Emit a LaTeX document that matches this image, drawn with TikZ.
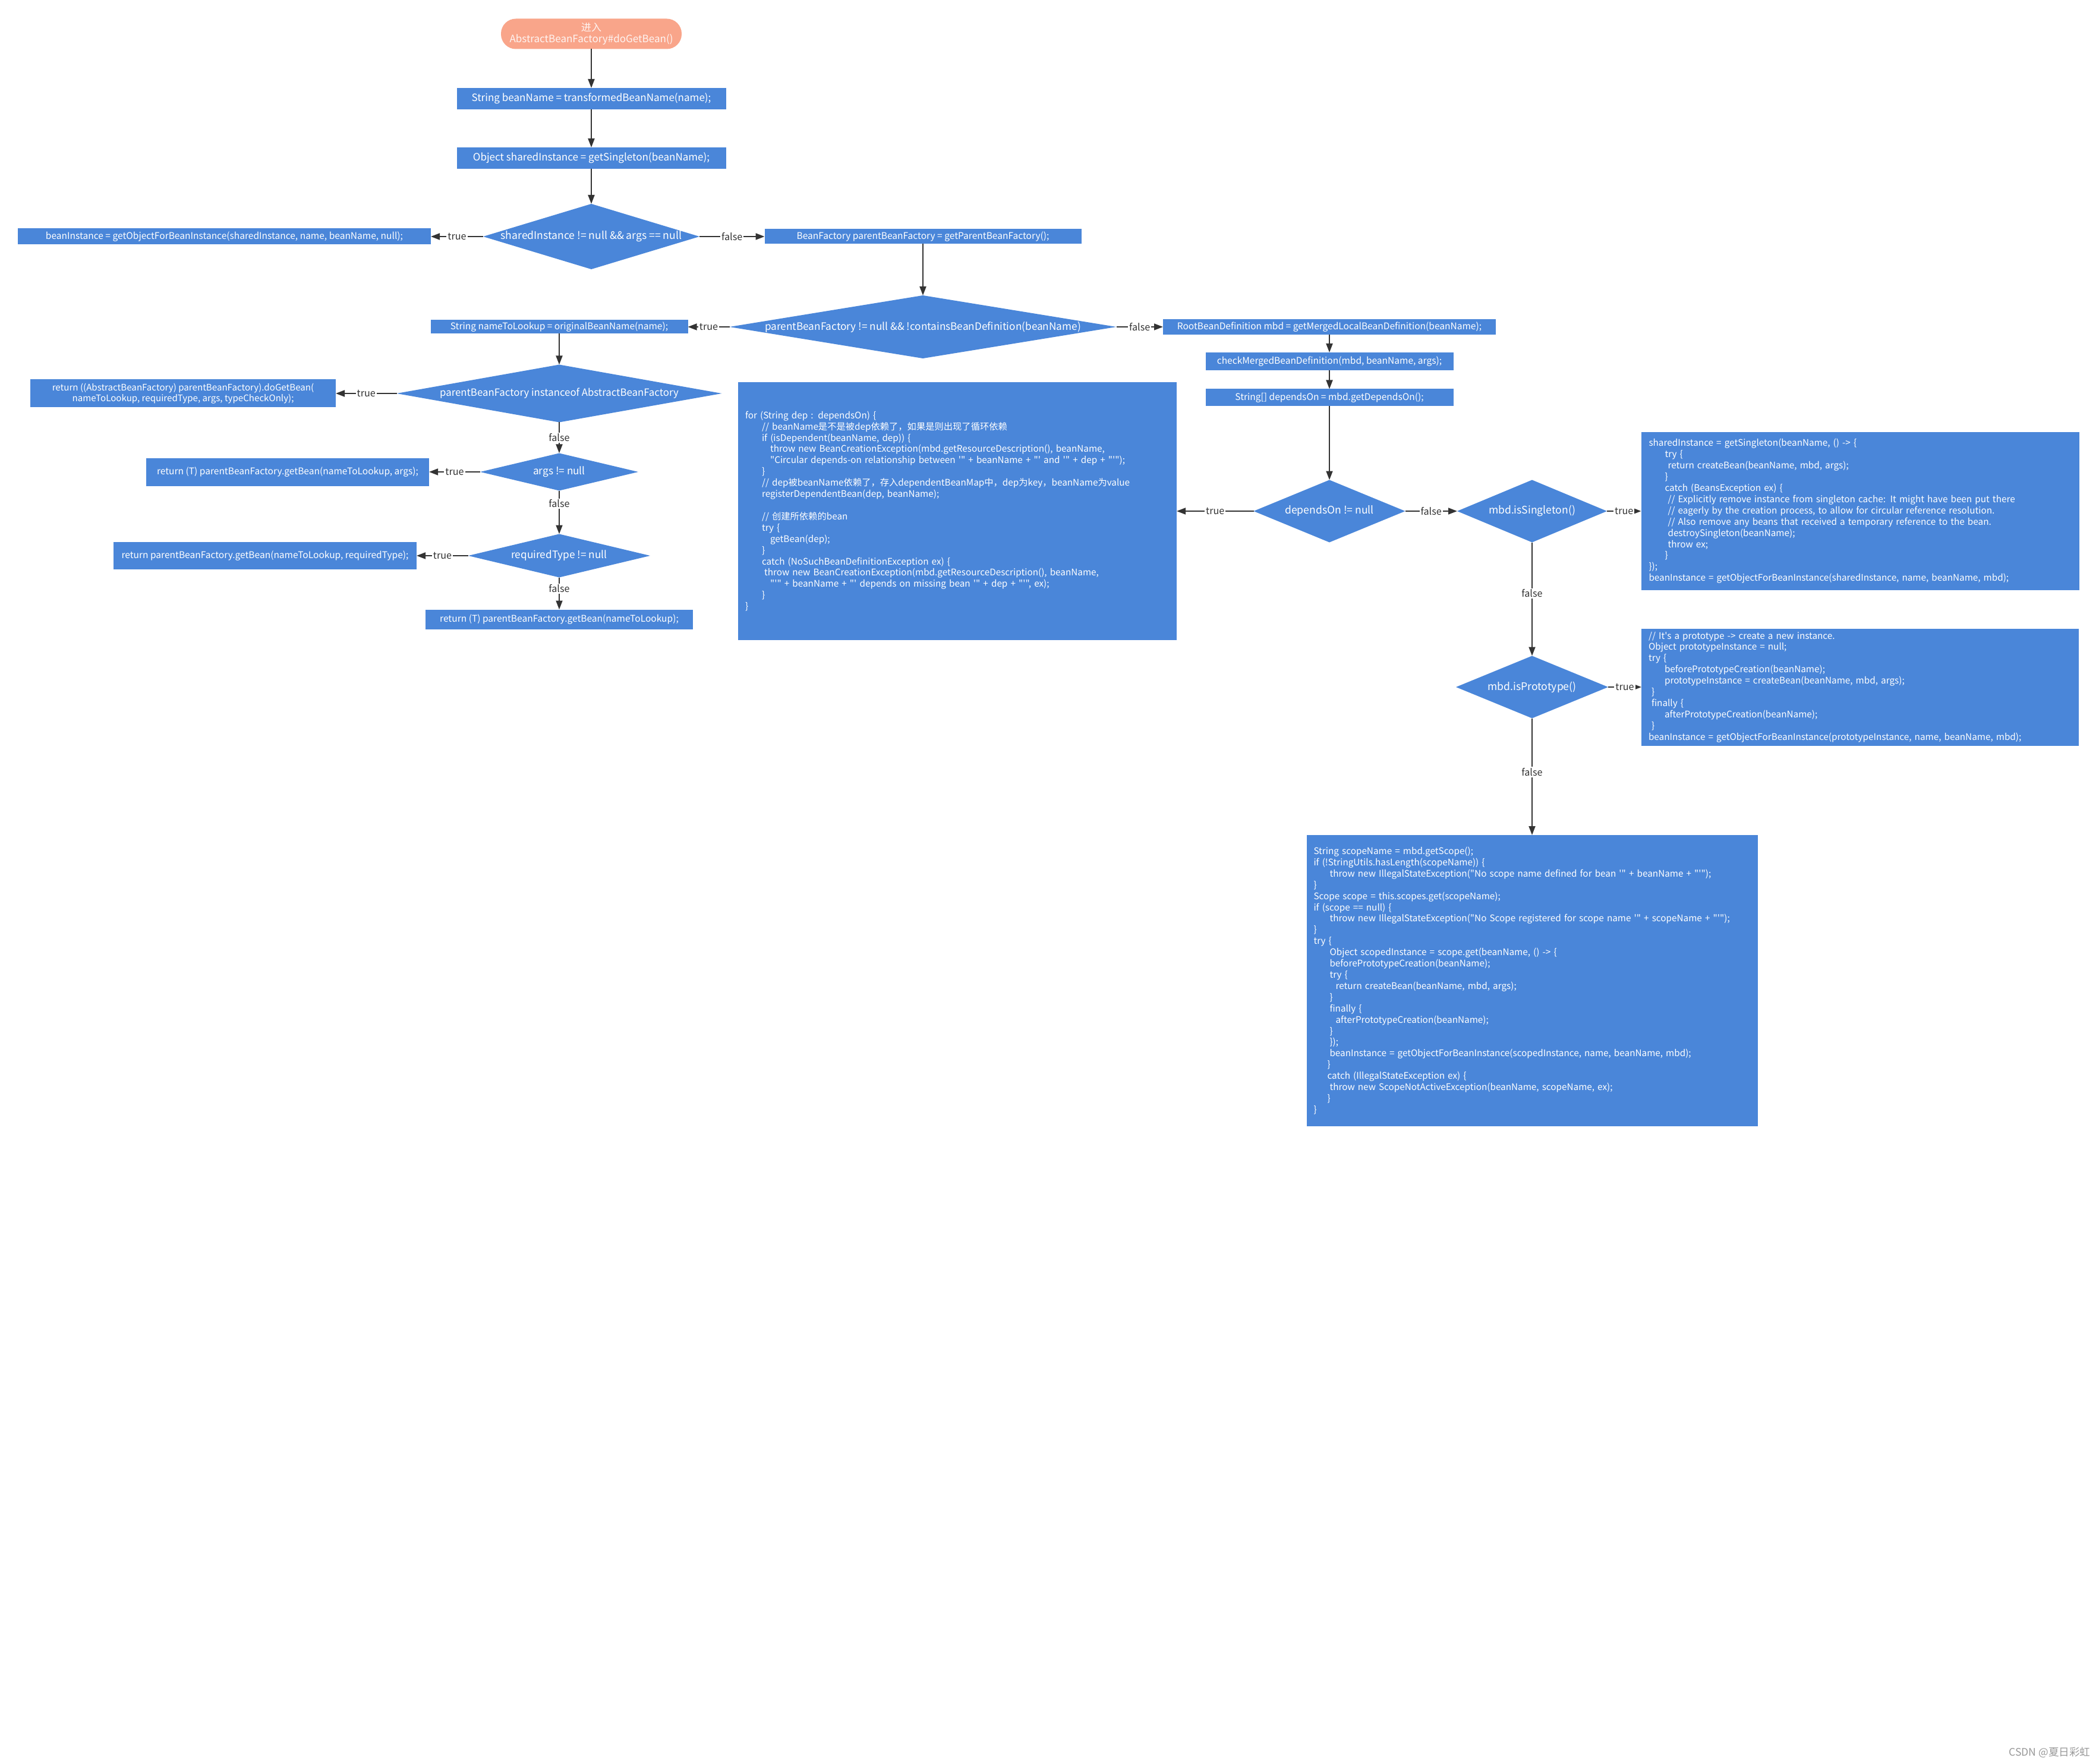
\documentclass[tikz,border=0pt]{standalone}
\usepackage{fontspec}
\setmainfont{Noto Sans CJK SC}[Ligatures=TeXOff]
\usepackage{tikz}
\usetikzlibrary{shapes.geometric, arrows.meta}

\definecolor{flowblue}{RGB}{74,134,217}
\definecolor{startpeach}{RGB}{249,165,138}
\definecolor{linegray}{RGB}{51,51,51}
\definecolor{markgray}{RGB}{153,153,153}
\newcommand{\dtext}[1]{\makebox[0pt]{#1}}

\begin{document}
\begin{tikzpicture}[
	box/.style={rectangle, fill=flowblue, text=white, inner sep=0pt, outer sep=0pt, font=\fontsize{4.42}{5.4}\selectfont},
	bigbox/.style={box, font=\fontsize{4.85}{6.3}\selectfont},
	codebox/.style={box, align=left, inner xsep=0.12cm, font=\fontsize{4.35}{5.38}\selectfont},
	decision/.style={diamond, fill=flowblue, text=white, inner sep=0pt, outer sep=0pt, font=\fontsize{4.9}{5.4}\selectfont},
	flow/.style={draw=linegray, line width=0.55pt, -{Triangle[length=1.5mm,width=1.1mm]}},
	tf/.style={fill=white, inner sep=0.6pt, text=linegray, font=\fontsize{4.6}{5.4}\selectfont}
	]
	\fill[white] (0,0) rectangle (35.32,-29.68);
	
	%start
	\node[box, fill=startpeach, text=white!88!startpeach, rounded corners=0.25cm, align=center, minimum width=3.04cm, minimum height=0.51cm, font=\fontsize{4.85}{5.4}\selectfont] (start) at (9.95,-0.57) {进入\\AbstractBeanFactory\#doGetBean()};
	
	%main column
	\node[bigbox, minimum width=4.53cm, minimum height=0.36cm] (bn) at (9.95,-1.66) {String beanName = transformedBeanName(name);};
	\node[bigbox, minimum width=4.53cm, minimum height=0.36cm] (si) at (9.95,-2.66) {Object sharedInstance = getSingleton(beanName);};
	\node[decision, minimum width=3.64cm, minimum height=1.10cm, font=\fontsize{5}{5.4}\selectfont] (d1) at (9.95,-3.98) {\dtext{sharedInstance != null \&\& args == null}};
	\node[box, minimum width=6.95cm, minimum height=0.27cm] (bi) at (3.775,-3.98) {beanInstance = getObjectForBeanInstance(sharedInstance, name, beanName, null);};
	\node[box, minimum width=5.33cm, minimum height=0.25cm] (bf) at (15.53,-3.98) {BeanFactory parentBeanFactory = getParentBeanFactory();};
	\node[decision, minimum width=6.51cm, minimum height=1.06cm] (d2) at (15.53,-5.50) {\dtext{parentBeanFactory != null \&\& !containsBeanDefinition(beanName)}};
	
	%parent factory branch
	\node[box, minimum width=4.33cm, minimum height=0.23cm] (ntl) at (9.41,-5.50) {String nameToLookup = originalBeanName(name);};
	\node[decision, minimum width=5.47cm, minimum height=0.97cm, font=\fontsize{4.78}{5.4}\selectfont] (d3) at (9.41,-6.62) {\dtext{parentBeanFactory instanceof AbstractBeanFactory}};
	\node[box, align=center, minimum width=5.14cm, minimum height=0.47cm, font=\fontsize{4.3}{5.0}\selectfont] (dgb) at (3.08,-6.62) {return ((AbstractBeanFactory) parentBeanFactory).doGetBean(\\nameToLookup, requiredType, args, typeCheckOnly);};
	\node[decision, minimum width=2.66cm, minimum height=0.63cm] (d4) at (9.41,-7.94) {\dtext{args != null}};
	\node[box, minimum width=4.76cm, minimum height=0.47cm] (ra) at (4.84,-7.94) {return (T) parentBeanFactory.getBean(nameToLookup, args);};
	\node[decision, minimum width=3.06cm, minimum height=0.73cm] (d5) at (9.41,-9.35) {\dtext{requiredType != null}};
	\node[box, minimum width=5.10cm, minimum height=0.46cm] (rrt) at (4.46,-9.35) {return parentBeanFactory.getBean(nameToLookup, requiredType);};
	\node[box, minimum width=4.50cm, minimum height=0.33cm] (rn) at (9.41,-10.42) {return (T) parentBeanFactory.getBean(nameToLookup);};
	
	%merged definition branch
	\node[box, minimum width=5.60cm, minimum height=0.26cm] (root) at (22.37,-5.50) {RootBeanDefinition mbd = getMergedLocalBeanDefinition(beanName);};
	\node[box, minimum width=4.17cm, minimum height=0.30cm] (cm) at (22.37,-6.08) {checkMergedBeanDefinition(mbd, beanName, args);};
	\node[box, minimum width=4.17cm, minimum height=0.29cm] (dep) at (22.37,-6.69) {String[] dependsOn = mbd.getDependsOn();};
	\node[decision, minimum width=2.55cm, minimum height=1.05cm, font=\fontsize{5}{5.4}\selectfont] (d6) at (22.37,-8.60) {\dtext{dependsOn != null}};
	\node[decision, minimum width=2.52cm, minimum height=1.05cm, font=\fontsize{5}{5.4}\selectfont] (d7) at (25.78,-8.60) {\dtext{mbd.isSingleton()}};
	\node[decision, minimum width=2.56cm, minimum height=1.05cm, font=\fontsize{5}{5.4}\selectfont] (d8) at (25.78,-11.56) {\dtext{mbd.isPrototype()}};
	
	%code blocks
	\node[codebox, text width=7.14cm, minimum height=4.33cm] (code) at (16.11,-8.60) {
		for (String dep : dependsOn) \{\\
		\hspace*{0.28cm}// beanName是不是被dep依赖了，如果是则出现了循环依赖\\
		\hspace*{0.28cm}if (isDependent(beanName, dep)) \{\\
		\hspace*{0.42cm}throw new BeanCreationException(mbd.getResourceDescription(), beanName,\\
		\hspace*{0.42cm}"Circular depends-on relationship between '" + beanName + "' and '" + dep + "'");\\
		\hspace*{0.28cm}\}\\
		\hspace*{0.28cm}// dep被beanName依赖了，存入dependentBeanMap中，dep为key，beanName为value\\
		\hspace*{0.28cm}registerDependentBean(dep, beanName);\\
		~\\
		\hspace*{0.28cm}// 创建所依赖的bean\\
		\hspace*{0.28cm}try \{\\
		\hspace*{0.42cm}getBean(dep);\\
		\hspace*{0.28cm}\}\\
		\hspace*{0.28cm}catch (NoSuchBeanDefinitionException ex) \{\\
		\hspace*{0.32cm}throw new BeanCreationException(mbd.getResourceDescription(), beanName,\\
		\hspace*{0.42cm}"'" + beanName + "' depends on missing bean '" + dep + "'", ex);\\
		\hspace*{0.28cm}\}\\
		\}};
	\node[codebox, text width=7.11cm, inner xsep=0.13cm, minimum height=2.66cm] (sing) at (31.30,-8.60) {
		sharedInstance = getSingleton(beanName, () -> \{\\
		\hspace*{0.27cm}try \{\\
		\hspace*{0.32cm}return createBean(beanName, mbd, args);\\
		\hspace*{0.27cm}\}\\
		\hspace*{0.27cm}catch (BeansException ex) \{\\
		\hspace*{0.32cm}// Explicitly remove instance from singleton cache: It might have been put there\\
		\hspace*{0.32cm}// eagerly by the creation process, to allow for circular reference resolution.\\
		\hspace*{0.32cm}// Also remove any beans that received a temporary reference to the bean.\\
		\hspace*{0.32cm}destroySingleton(beanName);\\
		\hspace*{0.32cm}throw ex;\\
		\hspace*{0.27cm}\}\\
		\});\\
		beanInstance = getObjectForBeanInstance(sharedInstance, name, beanName, mbd);};
	\node[codebox, text width=7.12cm, minimum height=1.97cm] (proto) at (31.30,-11.56) {
		// It's a prototype -> create a new instance.\\
		Object prototypeInstance = null;\\
		try \{\\
		\hspace*{0.27cm}beforePrototypeCreation(beanName);\\
		\hspace*{0.27cm}prototypeInstance = createBean(beanName, mbd, args);\\
		\hspace*{0.05cm}\}\\
		\hspace*{0.05cm}finally \{\\
		\hspace*{0.27cm}afterPrototypeCreation(beanName);\\
		\hspace*{0.05cm}\}\\
		beanInstance = getObjectForBeanInstance(prototypeInstance, name, beanName, mbd);};
	\node[codebox, text width=7.35cm, minimum height=4.90cm] (scope) at (25.78,-16.50) {
		String scopeName = mbd.getScope();\\
		if (!StringUtils.hasLength(scopeName)) \{\\
		\hspace*{0.27cm}throw new IllegalStateException("No scope name defined for bean '" + beanName + "'");\\
		\}\\
		Scope scope = this.scopes.get(scopeName);\\
		if (scope == null) \{\\
		\hspace*{0.27cm}throw new IllegalStateException("No Scope registered for scope name '" + scopeName + "'");\\
		\}\\
		try \{\\
		\hspace*{0.27cm}Object scopedInstance = scope.get(beanName, () -> \{\\
		\hspace*{0.27cm}beforePrototypeCreation(beanName);\\
		\hspace*{0.27cm}try \{\\
		\hspace*{0.37cm}return createBean(beanName, mbd, args);\\
		\hspace*{0.27cm}\}\\
		\hspace*{0.27cm}finally \{\\
		\hspace*{0.37cm}afterPrototypeCreation(beanName);\\
		\hspace*{0.27cm}\}\\
		\hspace*{0.27cm}\});\\
		\hspace*{0.27cm}beanInstance = getObjectForBeanInstance(scopedInstance, name, beanName, mbd);\\
		\hspace*{0.23cm}\}\\
		\hspace*{0.23cm}catch (IllegalStateException ex) \{\\
		\hspace*{0.27cm}throw new ScopeNotActiveException(beanName, scopeName, ex);\\
		\hspace*{0.23cm}\}\\
		\}};
	
	%arrows
	\draw[flow] (start) -- (bn);
	\draw[flow] (bn) -- (si);
	\draw[flow] (si) -- (d1.north);
	\draw[flow] (d1.west) -- node[tf] {true} (bi.east);
	\draw[flow] (d1.east) -- node[tf] {false} (bf.west);
	\draw[flow] (bf) -- (d2.north);
	\draw[flow] (d2.west) -- node[tf] {true} (ntl.east);
	\draw[flow] (d2.east) -- node[tf] {false} (root.west);
	\draw[flow] (ntl) -- (d3.north);
	\draw[flow] (d3.west) -- node[tf] {true} (dgb.east);
	\draw[flow] (d3.south) -- node[tf] {false} (d4.north);
	\draw[flow] (d4.west) -- node[tf] {true} (ra.east);
	\draw[flow] (d4.south) -- node[tf, pos=0.3] {false} (d5.north);
	\draw[flow] (d5.west) -- node[tf] {true} (rrt.east);
	\draw[flow] (d5.south) -- node[tf, pos=0.35] {false} (rn.north);
	\draw[flow] (root) -- (cm);
	\draw[flow] (cm) -- (dep);
	\draw[flow] (dep) -- (d6.north);
	\draw[flow] (d6.west) -- node[tf] {true} (code.east);
	\draw[flow] (d6.east) -- node[tf] {false} (d7.west);
	\draw[flow] (d7.east) -- node[tf] {true} (sing.west);
	\draw[flow] (d7.south) -- node[tf, pos=0.45] {false} (d8.north);
	\draw[flow] (d8.east) -- node[tf] {true} (proto.west);
	\draw[flow] (d8.south) -- node[tf, pos=0.46] {false} (scope.north);
	
	%watermark
	\node[anchor=east, text=markgray, inner sep=0pt, font=\fontsize{5}{5.4}\selectfont] (mark) at (35.18,-29.49) {CSDN @夏日彩虹};
\end{tikzpicture}
\end{document}
